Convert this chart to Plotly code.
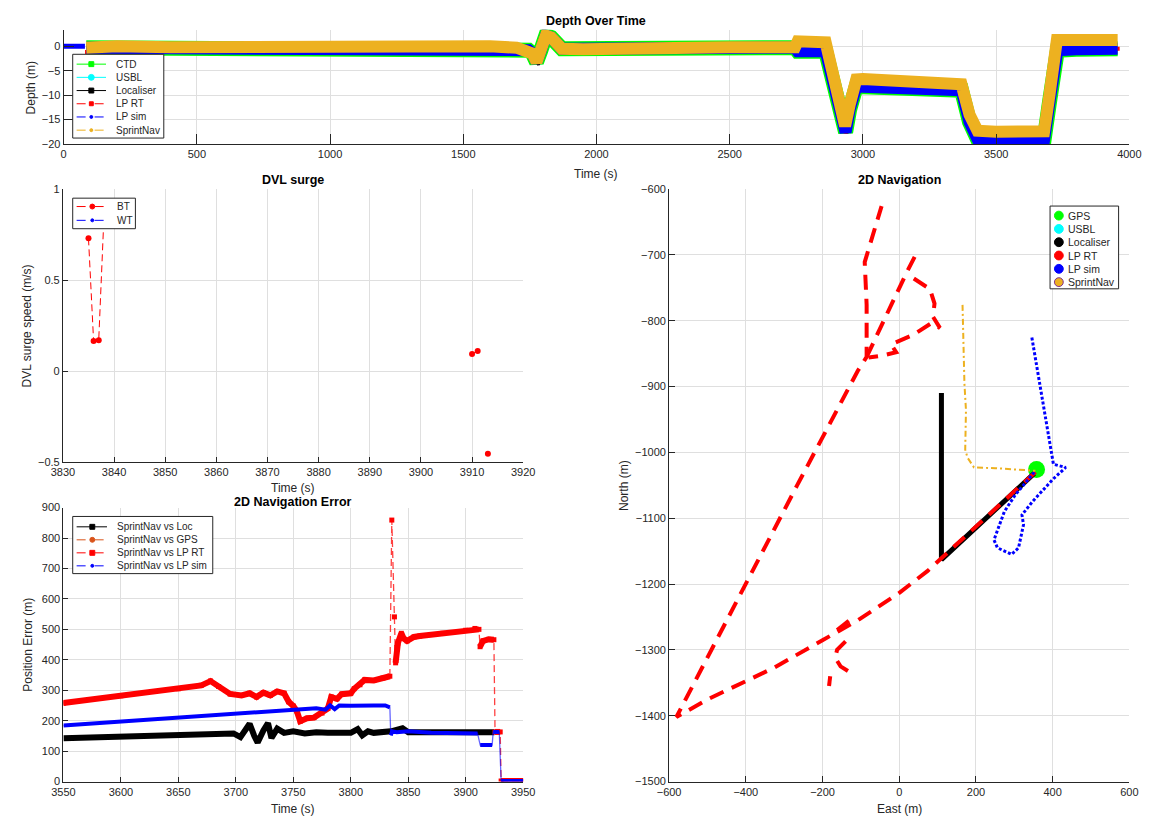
import plotly.graph_objects as go

W, H = 1159, 825
def X(px): return px / W
def Y(py): return 1 - py / H

FONT = "Liberation Sans, Arial, sans-serif"
TXT = "#262626"
GRID = "#dfdfdf"
AXC = "#262626"

# ---------------- DATA ----------------
# Depth over time (centre lines read from the noisy bands)
ctd_t = [85, 1700, 1745, 1760, 1775, 1790, 1810, 1830, 1870, 2745, 2755, 2860, 2900, 2935, 2950, 2975, 3000, 3100, 3200, 3300, 3370, 3400, 3430, 3500, 3600, 3680, 3700, 3730, 3800, 3900, 3956]
ctd_d = [-0.3, -0.3, -0.8, -1.5, -3.2, -1.0, 2.2, 1.8, -0.5, -0.3, -1.0, -1.0, -9.0, -17.6, -13.0, -8.2, -8.3, -8.6, -8.9, -8.9, -9.0, -15.5, -19.0, -19.2, -19.3, -19.1, -11.5, -0.8, -0.6, -0.6, -0.5]
usbl_t = [None]
usbl_d = [None]
loc_t = [85, 1745, 1765, 1782, 1800, 1815, 1870, 2755, 2868, 2910, 2940, 2958, 2982, 3370, 3410, 3440, 3685, 3710, 3736, 3956]
loc_d = [-0.3, -0.5, -2.0, -3.8, 0.0, 2.0, -0.5, -0.5, -1.0, -9.0, -17.8, -13.0, -8.5, -9.0, -15.0, -19.2, -19.2, -12.0, -0.8, -0.6]
lprt_t = [88, 1745, 1775, 1810, 1870, 2755, 2860, 2935, 2975, 3370, 3430, 3680, 3730, 3956]
lprt_d = [-1.2, -0.5, -3.0, 2.0, -0.5, -0.8, -1.0, -17.5, -8.2, -9.0, -19.0, -19.1, -0.8, -0.5]
lps0_t = [0, 80]
lps0_d = [0.0, 0.0]
lps_t = [85, 1700, 1745, 1760, 1775, 1790, 1810, 1830, 1870, 2745, 2755, 2860, 2900, 2935, 2950, 2975, 3000, 3100, 3200, 3300, 3370, 3400, 3430, 3500, 3600, 3680, 3700, 3730, 3800, 3900, 3956]
lps_d = [-0.3, -0.3, -0.8, -1.5, -3.2, -1.0, 2.2, 1.8, -0.5, -0.3, -1.0, -1.0, -9.0, -17.6, -13.0, -8.2, -8.3, -8.6, -8.9, -8.9, -9.0, -15.5, -19.0, -19.2, -19.3, -19.1, -11.5, -0.8, -0.6, -0.6, -0.5]
sn_t = [85, 200, 400, 600, 800, 1000, 1200, 1400, 1600, 1700, 1745, 1760, 1775, 1790, 1810, 1830, 1870, 1950, 2100, 2300, 2500, 2745, 2755, 2860, 2900, 2933, 2950, 2975, 3000, 3100, 3200, 3300, 3370, 3400, 3430, 3500, 3600, 3680, 3700, 3728, 3800, 3900, 3956]
sn_d = [-0.3, 0.0, -0.2, -0.1, -0.1, -0.2, -0.1, -0.3, 0.0, -0.3, -0.8, -1.5, -3.2, -1.0, 2.2, 1.8, -0.5, -0.6, -0.4, -0.3, -0.2, -0.2, 1.0, 0.8, -8.5, -16.3, -12.0, -6.8, -6.7, -7.0, -7.3, -7.5, -7.8, -14.0, -17.3, -17.5, -17.6, -17.4, -10.0, 1.3, 1.3, 1.2, 1.3]
depth_xticks = [0, 500, 1000, 1500, 2000, 2500, 3000, 3500, 4000]
depth_yticks = [-20, -15, -10, -5, 0]

# DVL surge
bt_t = [3835.0, 3836.0, 3837.0, 3838.1, None, 3910.0, 3911.1, None, 3913.1]
bt_v = [0.73, 0.165, 0.17, 0.9, None, 0.094, 0.11, None, -0.455]
wt_t = [None]
wt_v = [None]
dvl_xticks = [3830, 3840, 3850, 3860, 3870, 3880, 3890, 3900, 3910, 3920]
dvl_yticks = [-0.5, 0, 0.5, 1]

# 2D navigation error
err_loc_t = [3550, 3600, 3650, 3698, 3704, 3708, 3712, 3716, 3719, 3724, 3728, 3731, 3736, 3742, 3750, 3760, 3770, 3780, 3790, 3800, 3806, 3810, 3815, 3820, 3835, 3845, 3850, 3870, 3900, 3925]
err_loc_v = [142, 148, 154, 158, 146, 170, 190, 150, 128, 168, 192, 143, 174, 160, 165, 158, 162, 160, 158, 160, 172, 152, 165, 160, 165, 175, 162, 162, 162, 162]
err_gps_t = [None]
err_gps_v = [None]
err_rt_t = [3550, 3600, 3650, 3670, 3678, 3685, 3695, 3705, 3712, 3718, 3724, 3730, 3736, 3742, 3746, 3750, 3753, 3756, 3762, 3768, 3775, 3780, 3783, 3788, 3792, 3800, 3803, 3808, 3812, 3820, 3828, 3834,
            None, 3835.7, None, 3838.0, None,
            3839, 3840, 3841, 3844, 3846, 3849, 3855, 3860, 3880, 3900, 3908, 3911.5, None,
            3912.5, 3915, 3920, 3924.5, None,
            3925.5, 3930, None,
            3930.8, 3950]
err_rt_v = [258, 282, 305, 316, 330, 312, 288, 283, 290, 278, 292, 283, 296, 290, 262, 248, 232, 198, 208, 210, 225, 240, 278, 272, 287, 290, 305, 318, 334, 332, 340, 346,
            None, 859, None, 541, None,
            390, 440, 455, 487, 470, 462, 475, 478, 487, 497, 503, 500, None,
            443, 462, 467, 466, None,
            163, 163, None,
            2, 2]
err_sim_t = [3550, 3600, 3650, 3700, 3750, 3770, 3778, 3782, 3786, 3790, 3800, 3810, 3820, 3830, 3834, None,
             3834.8, 3836, 3840, 3850, 3870, 3890, 3910.3, None,
             3912.6, 3923, None,
             3923.9, 3929.2, None,
             3930.8, 3950]
err_sim_v = [184, 197, 210, 222, 236, 241, 236, 250, 238, 250, 249, 251, 250, 250, 244, None,
             152, 165, 162, 165, 160, 160, 158, None,
             120, 120, None,
             163, 163, None,
             2, 2]
err_xticks = [3550, 3600, 3650, 3700, 3750, 3800, 3850, 3900, 3950]
err_yticks = [0, 100, 200, 300, 400, 500, 600, 700, 800, 900]

# 2D navigation (East, North)
gps_e = [358]
gps_n = [-1026]
usbl_e = [None]
usbl_n = [None]
nav_loc_e = [352, 110, 110]
nav_loc_n = [-1032, -1163, -910]
nav_rt_e = [355, 115, 74, 1, -108, -199, -244, -326, -499, -581, -267, -108, -85, -85, -90, -46, None,
            -85, -62, -21, 20, 42, None,
            38, 61, 80, 92, 88, 106, 83, 38, -3, -21, -8, -44, -80, None,
            -162, -130, None,
            -140, -162, -167, -153, -126, None,
            -180, -183]
nav_rt_n = [-1030, -1158, -1180, -1213, -1255, -1285, -1300, -1327, -1375, -1402, -1051, -876, -855, -776, -711, -626, None,
            -855, -826, -776, -726, -701, None,
            -736, -744, -752, -774, -794, -811, -804, -821, -831, -836, -848, -853, -856, None,
            -1270, -1255, None,
            -1287, -1300, -1312, -1325, -1335, None,
            -1340, -1355]
nav_sim_e = [352, 338, 302, 274, 247, 256, 293, 311, 324, 320, 347, 402, 434, 402, 368, 345]
nav_sim_n = [-1030, -1040, -1065, -1090, -1133, -1145, -1155, -1145, -1110, -1095, -1075, -1040, -1023, -1018, -901, -823]
nav_sn_e = [165, 170, 174, 172, 178, 188, 195, 250, 300, 355]
nav_sn_n = [-776, -896, -936, -996, -1008, -1018, -1023, -1024, -1026, -1028]
nav_xticks = [-600, -400, -200, 0, 200, 400, 600]
nav_yticks = [-1500, -1400, -1300, -1200, -1100, -1000, -900, -800, -700, -600]

# legend labels
depth_labels = ["CTD", "USBL", "Localiser", "LP RT", "LP sim", "SprintNav"]
dvl_labels = ["BT", "WT"]
err_labels = ["SprintNav vs Loc", "SprintNav vs GPS", "SprintNav vs LP RT", "SprintNav vs LP sim"]
nav_labels = ["GPS", "USBL", "Localiser", "LP RT", "LP sim", "SprintNav"]

GREEN, CYAN, BLACK, RED, BLUE, ORANGE = "#00ff00", "#00ffff", "#000000", "#ff0000", "#0000ff", "#edb120"

# ---------------- FIGURE ----------------
fig = go.Figure()

def add(x, y, ax, **kw):
    fig.add_trace(go.Scatter(x=x, y=y, xaxis="x" + ax, yaxis="y" + ax,
                             showlegend=False, hoverinfo="skip", **kw))

# Depth over time
add(ctd_t, ctd_d, "", mode="lines", name="CTD", line=dict(color=GREEN, width=15))
add(usbl_t, usbl_d, "", mode="lines", name="USBL", line=dict(color=CYAN, width=2))
add(loc_t, loc_d, "", mode="lines", name="Localiser", line=dict(color=BLACK, width=3))
add(lprt_t, lprt_d, "", mode="lines+markers", name="LP RT", line=dict(color=RED, width=3),
    marker=dict(color=RED, size=4, symbol="square"))
add(lps0_t, lps0_d, "", mode="lines", name="LP sim", line=dict(color=BLUE, width=5))
add(lps_t, lps_d, "", mode="lines", name="LP sim", line=dict(color=BLUE, width=12))
add(sn_t, sn_d, "", mode="lines", name="SprintNav", line=dict(color=ORANGE, width=12))

# DVL surge
add(bt_t, bt_v, "2", mode="lines", name="BT", connectgaps=False,
    line=dict(color=RED, width=1, dash="7px,4px"))
add(bt_t, bt_v, "2", mode="markers", name="BT", marker=dict(color=RED, size=6, symbol="circle"))
add(wt_t, wt_v, "2", mode="lines+markers", name="WT", line=dict(color=BLUE, width=1, dash="dash"))

# 2D navigation error
add(err_loc_t, err_loc_v, "3", mode="lines", name="SprintNav vs Loc", line=dict(color=BLACK, width=6))
add(err_gps_t, err_gps_v, "3", mode="lines", name="SprintNav vs GPS", line=dict(color="#d95319", width=1))
add(err_rt_t, err_rt_v, "3", mode="lines", name="SprintNav vs LP RT", connectgaps=True,
    line=dict(color="rgba(255,0,0,0.75)", width=1.3, dash="7px,4px"))
add(err_rt_t, err_rt_v, "3", mode="lines+markers", name="SprintNav vs LP RT", connectgaps=False,
    line=dict(color=RED, width=6), marker=dict(color=RED, size=5, symbol="square"))
add(err_sim_t, err_sim_v, "3", mode="lines", name="SprintNav vs LP sim", connectgaps=True,
    line=dict(color="rgba(0,0,255,0.6)", width=1.3))
add(err_sim_t, err_sim_v, "3", mode="lines", name="SprintNav vs LP sim", connectgaps=False,
    line=dict(color=BLUE, width=4))

# 2D navigation
add(gps_e, gps_n, "4", mode="markers", name="GPS", marker=dict(color=GREEN, size=17, line=dict(width=0)))
add(usbl_e, usbl_n, "4", mode="markers", name="USBL", marker=dict(color=CYAN, size=9))
add(nav_loc_e, nav_loc_n, "4", mode="lines", name="Localiser", line=dict(color=BLACK, width=5))
add(nav_rt_e, nav_rt_n, "4", mode="lines", name="LP RT", connectgaps=False,
    line=dict(color=RED, width=4, dash="15px,9px"))
add(nav_sim_e, nav_sim_n, "4", mode="lines", name="LP sim", line=dict(color=BLUE, width=3, dash="3px,2px"))
add(nav_sn_e, nav_sn_n, "4", mode="lines", name="SprintNav", line=dict(color=ORANGE, width=2, dash="6px,3px,2px,3px"))


def axis(px0, px1, rng, vals, ticklen, anchor):
    return dict(domain=[X(px0), X(px1)], range=rng, tickmode="array", tickvals=vals,
                ticks="inside", ticklen=ticklen, tickcolor=AXC, tickwidth=1,
                showline=True, linecolor=AXC, linewidth=1,
                showgrid=True, gridcolor=GRID, gridwidth=1, zeroline=False,
                anchor=anchor, tickfont=dict(family=FONT, size=11, color=TXT), fixedrange=True)

def yaxis(py_top, py_bot, rng, vals, ticklen, anchor):
    d = axis(0, 1, rng, vals, ticklen, anchor)
    d["domain"] = [Y(py_bot), Y(py_top)]
    return d

fig.update_layout(
    width=W, height=H, margin=dict(l=0, r=0, t=0, b=0),
    paper_bgcolor="white", plot_bgcolor="white", showlegend=False,
    xaxis=axis(52.7, 1141, [0, 4000], depth_xticks, 10, "y"),
    yaxis=yaxis(24, 140, [-20, 3.4], depth_yticks, 10, "x"),
    xaxis2=axis(52, 522, [3830, 3920], dvl_xticks, 5, "y2"),
    yaxis2=yaxis(186, 462.7, [-0.5, 1], dvl_yticks, 5, "x2"),
    xaxis3=axis(52.5, 522, [3550, 3950], err_xticks, 5, "y3"),
    yaxis3=yaxis(509, 787, [0, 900], err_yticks, 5, "x3"),
    xaxis4=axis(671, 1141, [-600, 600], nav_xticks, 6, "y4"),
    yaxis4=yaxis(185.7, 787, [-1500, -600], nav_yticks, 6, "x4"),
)

shapes = []
annos = []

def text(s, px, py, size=12, bold=False, angle=0, color=TXT, xanchor="center"):
    annos.append(dict(text=("<b>%s</b>" % s) if bold else s, x=X(px), y=Y(py), xref="paper", yref="paper",
                      xanchor=xanchor, yanchor="middle", showarrow=False, textangle=angle,
                      font=dict(family=FONT, size=size, color=color)))

def legend_box(x0, y0, x1, y1):
    shapes.append(dict(type="rect", xref="paper", yref="paper", x0=X(x0), x1=X(x1), y0=Y(y1), y1=Y(y0),
                       fillcolor="white", line=dict(color=AXC, width=1), layer="above"))

def legend_entry(label, color, cy, lx0, lx1, mx, tx, msym, msize, dash, edge=None, fsize=10):
    if dash:
        shapes.append(dict(type="line", xref="paper", yref="paper", x0=X(lx0), x1=X(lx1), y0=Y(cy), y1=Y(cy),
                           line=dict(color=color, width=1, dash=dash), layer="above"))
    if msym:
        shapes.append(dict(type="circle" if msym == "circle" else "rect", xref="paper", yref="paper",
                           x0=X(mx - msize / 2), x1=X(mx + msize / 2), y0=Y(cy + msize / 2), y1=Y(cy - msize / 2),
                           fillcolor=color, line=dict(color=edge or color, width=1), layer="above"))
    text(label, tx, cy, size=fsize, xanchor="left")

# titles & axis labels
text("Depth Over Time", 596.5, 15, size=12.5, bold=True, color="black")
text("Time (s)", 596.5, 170)
text("Depth (m)", 19, 83, angle=-90)
text("DVL surge", 287, 177, size=12.5, bold=True, color="black")
text("Time (s)", 287, 489.5)
text("DVL surge speed (m/s)", 15.5, 325, angle=-90)
text("2D Navigation Error", 287, 503.5, size=12.5, bold=True, color="black")
text("Time (s)", 287, 815)
text("Position Error (m)", 15.5, 648, angle=-90)
text("2D Navigation", 906, 177, size=12.5, bold=True, color="black")
text("East (m)", 906, 815)
text("North (m)", 625, 487, angle=-90)

# depth legend
legend_box(62, 49, 155, 134)
dep_style = [(GREEN, "square", 5, "solid"), (CYAN, "circle", 6, "solid"), (BLACK, "square", 5, "solid"),
             (RED, "square", 4, "dash"), (BLUE, "circle", 3, "dash"), (ORANGE, "circle", 3, "dash")]
for i, (lab, st) in enumerate(zip(depth_labels, dep_style)):
    legend_entry(lab, st[0], 59 + 13.4 * i, 66, 96, 81, 104, st[1], st[2], st[3])

# DVL legend
legend_box(62, 195, 126, 226)
dvl_style = [(RED, "circle", 5, "dash"), (BLUE, "circle", 3, "dash")]
for i, (lab, st) in enumerate(zip(dvl_labels, dvl_style)):
    legend_entry(lab, st[0], 203.5 + 14 * i, 66, 97, 82, 105, st[1], st[2], st[3])

# error legend
legend_box(62, 518, 205, 576)
err_style = [(BLACK, "square", 5, "solid"), ("#d95319", "circle", 5, "dash"), (RED, "square", 5, "dash"),
             (BLUE, "circle", 3, "dash")]
for i, (lab, st) in enumerate(zip(err_labels, err_style)):
    legend_entry(lab, st[0], 528.5 + 13.2 * i, 66, 97, 82, 105, st[1], st[2], st[3])

# nav legend
legend_box(1060, 203, 1130, 287)
nav_style = [(GREEN, None), (CYAN, None), (BLACK, None), (RED, None), (BLUE, None), (ORANGE, "#7e2f8e")]
for i, (lab, st) in enumerate(zip(nav_labels, nav_style)):
    legend_entry(lab, st[0], 212.7 + 13.5 * i, 0, 0, 1069, 1076, "circle", 9, None, edge=st[1], fsize=10.5)

fig.update_layout(shapes=shapes, annotations=annos)
fig.write_html("out.html", config={"displayModeBar": False},
               post_script="document.body.style.margin='0px';document.body.style.overflow='hidden';")
